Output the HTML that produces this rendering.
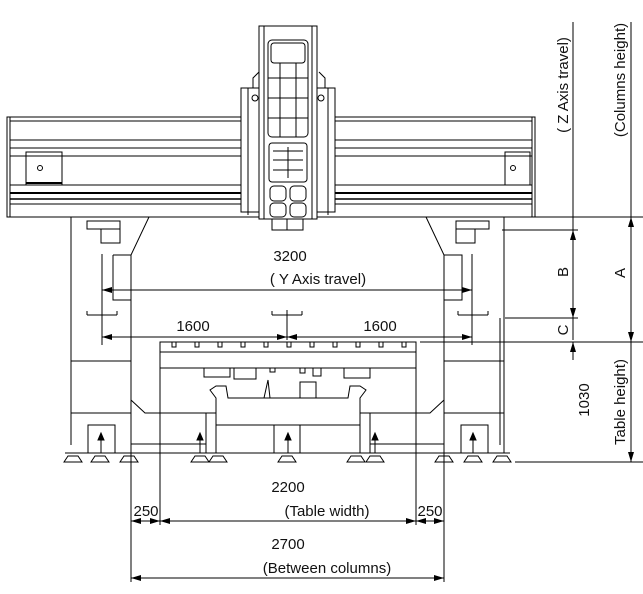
<!DOCTYPE html>
<html><head><meta charset="utf-8"><style>
html,body{margin:0;padding:0;background:#fff;}
svg{display:block;}
text{font-family:"Liberation Sans",sans-serif;font-size:15px;fill:#111;}
</style></head><body>
<svg width="643" height="594" viewBox="0 0 643 594" xmlns="http://www.w3.org/2000/svg">
<defs>
<marker id="a" markerWidth="10" markerHeight="6" refX="10" refY="3" orient="auto-start-reverse" markerUnits="userSpaceOnUse"><path d="M0,0 L10,3 L0,6 z" fill="#000"/></marker>
</defs>
<g fill="none" stroke="#000" stroke-width="1">
<!-- crossbeam -->
<rect x="7" y="117" width="528" height="100"/>
<line x1="10" y1="121" x2="532" y2="121"/>
<line x1="10" y1="117" x2="10" y2="217"/>
<line x1="532" y1="117" x2="532" y2="217"/>
<line x1="10" y1="140" x2="532" y2="140"/>
<line x1="10" y1="148" x2="532" y2="148"/>
<line x1="10" y1="156" x2="532" y2="156"/>
<line x1="10" y1="185" x2="532" y2="185"/>
<line x1="10" y1="193" x2="532" y2="193" stroke-width="2"/>
<line x1="10" y1="199" x2="532" y2="199" stroke-width="1.5"/>
<line x1="10" y1="204" x2="532" y2="204"/>
<rect x="26" y="152" width="36" height="33"/>
<line x1="26" y1="183" x2="62" y2="183" stroke-width="2"/>
<circle cx="40" cy="168" r="2.5"/>
<rect x="505" y="152" width="25" height="33"/>
<circle cx="513" cy="168" r="2.5"/>
<!-- saddle -->
<rect x="241" y="88" width="94" height="124" fill="#fff"/>
<path d="M248,88 V215 M328,88 V215"/>
<path d="M253,88 V78 L259,72 M325,88 V78 L319,72"/>
<circle cx="255" cy="98" r="3"/><circle cx="321" cy="98" r="3"/>
<!-- ram -->
<rect x="259" y="26" width="58" height="193" fill="#fff"/>
<line x1="264" y1="26" x2="264" y2="219"/><line x1="312" y1="26" x2="312" y2="219"/>
<rect x="268" y="40" width="40" height="97" rx="4"/>
<rect x="271" y="43" width="34" height="20" rx="3"/>
<path d="M268,78 H308 M268,98 H308 M268,118 H308 M280,63 V137 M296,63 V137"/>
<rect x="269" y="143" width="38" height="39" rx="3"/>
<path d="M273,151 H303 M273,160 H303 M273,170 H303 M288,147 V178"/>
<rect x="270" y="186" width="16" height="15" rx="4"/><rect x="290" y="186" width="16" height="15" rx="4"/>
<rect x="270" y="203" width="16" height="14" rx="4"/><rect x="290" y="203" width="16" height="14" rx="4"/>
<rect x="272" y="219" width="31" height="11"/><line x1="287" y1="219" x2="287" y2="230"/>
<!-- left column -->
<path d="M71,217 V445 M71,217 H149 L131,255 V453"/>
<path d="M113,255 H131 M113,255 V300 H131"/>
<rect x="87" y="221" width="33" height="8"/><rect x="101" y="229" width="19" height="14"/>
<path d="M71,361 H131 M71,413 H131 M131,400 L145,413 H206"/>
<!-- right column -->
<path d="M504,217 V453 M426,217 H504 M426,217 L444,255 V453"/>
<path d="M444,255 H462 V300 H444"/>
<rect x="456" y="221" width="33" height="8"/><rect x="456" y="229" width="19" height="14"/>
<path d="M444,361 H504 M444,413 H504 M444,400 L430,413 H366"/>
<path d="M500,318 V445"/>
<!-- table -->
<rect x="160" y="342" width="256" height="26"/>
<line x1="160" y1="352" x2="416" y2="352"/>
<g>
<path d="M172,342v5h4v-5 M195,342v5h4v-5 M218,342v5h4v-5 M241,342v5h4v-5 M264,342v5h4v-5 M287,342v5h4v-5 M310,342v5h4v-5 M333,342v5h4v-5 M356,342v5h4v-5 M379,342v5h4v-5 M402,342v5h4v-5"/>
</g>
<rect x="204" y="368" width="26" height="9"/><rect x="234" y="368" width="22" height="11"/>
<rect x="270" y="368" width="5" height="4"/><rect x="300" y="368" width="5" height="5"/>
<rect x="313" y="368" width="8" height="8"/><rect x="344" y="368" width="26" height="10"/>
<!-- base -->
<path d="M216,453 V398 L210,390 L216,386 H226 L228,398 H348 L350,386 H360 L366,390 L360,398 V453"/>
<path d="M264,398 L268,380 L270,398 M300,398 V382 H316 V398"/>
<line x1="216" y1="425" x2="360" y2="425"/>
<rect x="206" y="413" width="10" height="40"/><rect x="360" y="413" width="10" height="40"/>
<path d="M131,444 H206 M370,444 H444 M65,453 H510"/>
<rect x="88" y="425" width="27" height="28"/><rect x="274" y="425" width="26" height="28"/><rect x="461" y="425" width="27" height="28"/>
<g fill="#000">
<path d="M101,433 L98,440 H104 Z M200,433 L197,440 H203 Z M288,433 L285,440 H291 Z M375,433 L372,440 H378 Z M473,433 L470,440 H476 Z"/>
</g>
<path d="M101,440 V453 M200,440 V453 M288,440 V453 M375,440 V453 M473,440 V453"/>
<g>
<path d="M64,462 L68,456 H78 L82,462 Z M91,462 L95,456 H105 L109,462 Z M120,462 L124,456 H134 L138,462 Z M191,462 L195,456 H205 L209,462 Z M209,462 L213,456 H223 L227,462 Z M278,462 L282,456 H292 L296,462 Z M347,462 L351,456 H361 L365,462 Z M366,462 L370,456 H380 L384,462 Z M435,462 L439,456 H449 L453,462 Z M464,462 L468,456 H478 L482,462 Z M493,462 L497,456 H507 L511,462 Z"/>
</g>
<!-- Y axis dims -->
<path d="M102,254 V345 M472,254 V345 M287,310 V340"/>
<path d="M87,315 H117 M87,315 V311 M117,315 V311 M272,315 H302 M272,315 V311 M302,315 V311 M458,315 H488 M458,315 V311 M488,315 V311"/>
<line x1="102" y1="290" x2="472" y2="290" marker-start="url(#a)" marker-end="url(#a)"/>
<line x1="102" y1="337" x2="287" y2="337" marker-start="url(#a)" marker-end="url(#a)"/>
<line x1="287" y1="337" x2="472" y2="337" marker-start="url(#a)" marker-end="url(#a)"/>
<!-- right dims -->
<path d="M573,22 V340 M631,22 V462 M530,217 H643 M502,230 H578 M505,318 H578 M420,342 H643 M515,462 H643"/>
<line x1="573" y1="305" x2="573" y2="230" marker-end="url(#a)"/>
<line x1="573" y1="345" x2="573" y2="342" />
<line x1="573" y1="360" x2="573" y2="342" marker-end="url(#a)"/>
<line x1="573" y1="300" x2="573" y2="318" marker-end="url(#a)"/>
<line x1="631" y1="240" x2="631" y2="217" marker-end="url(#a)"/>
<line x1="631" y1="320" x2="631" y2="342" marker-end="url(#a)"/>
<line x1="631" y1="440" x2="631" y2="462" marker-end="url(#a)"/>
<!-- bottom dims -->
<path d="M131,453 V582 M444,453 V582 M160,368 V525 M416,368 V525"/>
<line x1="160" y1="521" x2="416" y2="521" marker-start="url(#a)" marker-end="url(#a)"/>
<line x1="131" y1="521" x2="160" y2="521" marker-start="url(#a)" marker-end="url(#a)"/>
<line x1="416" y1="521" x2="444" y2="521" marker-start="url(#a)" marker-end="url(#a)"/>
<line x1="131" y1="578" x2="444" y2="578" marker-start="url(#a)" marker-end="url(#a)"/>
</g>
<g>
<text x="290" y="261" text-anchor="middle">3200</text>
<text x="318" y="284" text-anchor="middle">( Y Axis travel)</text>
<text x="193" y="331" text-anchor="middle">1600</text>
<text x="380" y="331" text-anchor="middle">1600</text>
<text x="288" y="492" text-anchor="middle">2200</text>
<text x="327" y="516" text-anchor="middle">(Table width)</text>
<text x="146" y="516" text-anchor="middle">250</text>
<text x="430" y="516" text-anchor="middle">250</text>
<text x="288" y="549" text-anchor="middle">2700</text>
<text x="327" y="573" text-anchor="middle">(Between columns)</text>
<text transform="translate(568,85) rotate(-90)" text-anchor="middle">( Z Axis travel)</text>
<text transform="translate(625,80) rotate(-90)" text-anchor="middle">(Columns height)</text>
<text transform="translate(568,272) rotate(-90)" text-anchor="middle">B</text>
<text transform="translate(625,273) rotate(-90)" text-anchor="middle">A</text>
<text transform="translate(568,330) rotate(-90)" text-anchor="middle">C</text>
<text transform="translate(589,400) rotate(-90)" text-anchor="middle">1030</text>
<text transform="translate(625,402) rotate(-90)" text-anchor="middle">Table height)</text>
</g>
</svg>
</body></html>
